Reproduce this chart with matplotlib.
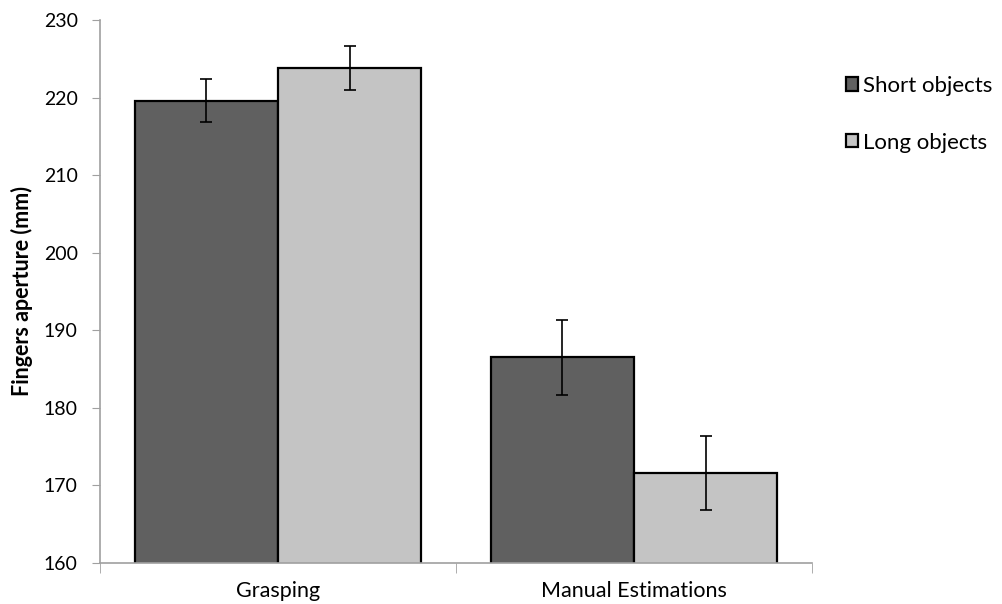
import matplotlib
matplotlib.use("Agg")
import matplotlib.pyplot as plt
import numpy as np

categories = ["Grasping", "Manual Estimations"]
series_names = ["Short objects", "Long objects"]
short_vals = [219.6, 186.5]
long_vals = [223.8, 171.6]
short_err = [2.8, 4.8]
long_err = [2.85, 4.8]
yticks = [160, 170, 180, 190, 200, 210, 220, 230]

plt.rcParams["font.family"] = ["Lato", "DejaVu Sans"]

fig = plt.figure(figsize=(10.02, 6.04), dpi=100)
ax = fig.add_axes([100 / 1002, 1 - 563 / 604, 712 / 1002, 543 / 604])

x = np.arange(len(categories))
w = 0.403
err_kw = dict(ecolor="black", elinewidth=1.2, capsize=4, capthick=1.2)
ax.bar(x - w / 2, short_vals, w, yerr=short_err, color="#606060",
       edgecolor="black", linewidth=1.6, label=series_names[0], error_kw=err_kw, zorder=2)
ax.bar(x + w / 2, long_vals, w, yerr=long_err, color="#C4C4C4",
       edgecolor="black", linewidth=1.6, label=series_names[1], error_kw=err_kw, zorder=2)

ax.set_xlim(-0.5, 1.5)
ax.set_ylim(160, 230)
ax.set_yticks(yticks)
ax.set_xticks(x)
ax.set_xticklabels(categories)
ax.set_xticks([-0.5, 0.5, 1.5], minor=True)
ax.tick_params(axis="x", which="major", length=0, pad=13, labelsize=15.5)
ax.tick_params(axis="x", which="minor", length=7, color="#A0A0A0")
ax.tick_params(axis="y", length=6, color="#A0A0A0", labelsize=14, pad=10)

for s in ["top", "right"]:
    ax.spines[s].set_visible(False)
for s in ["left", "bottom"]:
    ax.spines[s].set_color("#A0A0A0")
    ax.spines[s].set_linewidth(1.2)

ax.set_ylabel("Fingers aperture (mm)", fontsize=15.5, fontweight="bold", labelpad=8)

fig.legend(loc="upper left", bbox_to_anchor=(826 / 1002, 1 - 56 / 604), frameon=False,
           fontsize=16, labelspacing=1.65, handlelength=0.55, handleheight=0.55,
           handletextpad=0.2)

fig.savefig("out.png", dpi=100)
